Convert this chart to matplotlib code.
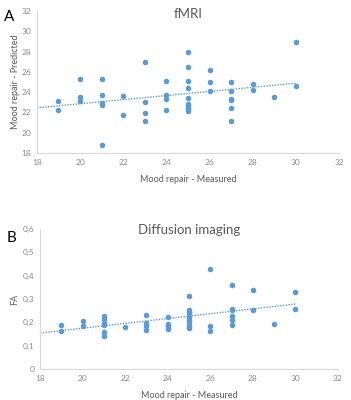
import matplotlib.pyplot as plt
import numpy as np

# fMRI panel: measured mood repair (x) vs predicted (y)
fmri_x = [19, 19,
          20, 20, 20,
          21, 21, 21, 21, 21,
          22, 22,
          23, 23, 23, 23,
          24, 24, 24, 24,
          25, 25, 25, 25, 25, 25, 25, 25, 25, 25,
          26, 26, 26,
          27, 27, 27, 27, 27, 27,
          28, 28,
          29,
          30, 30]
fmri_y = [23.15, 22.25,
          25.25, 23.5, 23.1,
          25.3, 23.7, 22.96, 22.77, 18.8,
          23.6, 21.76,
          27.0, 23.07, 21.92, 21.2,
          25.1, 23.76, 23.3, 22.25,
          27.94, 26.44, 25.1, 24.45, 23.46, 22.8, 22.64, 22.48, 22.32, 22.19,
          26.18, 24.97, 24.08,
          25.0, 24.15, 23.36, 23.2, 22.45, 21.17,
          24.84, 24.18,
          23.5,
          28.96, 24.57]

# diffusion panel: measured mood repair (x) vs FA (y)
dti_x = [19, 19,
         20, 20,
         21, 21, 21, 21, 21, 21,
         22,
         23, 23, 23, 23,
         24, 24, 24, 24,
         25, 25, 25, 25, 25, 25, 25, 25, 25, 25,
         26, 26, 26,
         27, 27, 27, 27, 27, 27,
         28, 28,
         29,
         30, 30]
dti_y = [0.189, 0.164,
         0.204, 0.183,
         0.226, 0.216, 0.196, 0.189, 0.159, 0.141,
         0.18,
         0.233, 0.197, 0.186, 0.167,
         0.224, 0.193, 0.183, 0.173,
         0.314, 0.253, 0.246, 0.24, 0.221, 0.211, 0.201, 0.19, 0.181, 0.174,
         0.429, 0.184, 0.161,
         0.36, 0.259, 0.251, 0.227, 0.21, 0.189,
         0.34, 0.254,
         0.193,
         0.331, 0.256]

x_ticks = [18, 20, 22, 24, 26, 28, 30, 32]
fmri_ticks = [18, 20, 22, 24, 26, 28, 30, 32]
dti_ticks = [0, 0.1, 0.2, 0.3, 0.4, 0.5, 0.6]
dti_tick_labels = ["0", "0,1", "0,2", "0,3", "0,4", "0,5", "0,6"]

blue = "#5B9BD5"
grey = "#595959"
light = "#8C8C8C"
plt.rcParams['font.family'] = ['Lato', 'DejaVu Sans']

fig = plt.figure(figsize=(3.51, 4.0), dpi=100)
axA = fig.add_axes([0.105, 0.6175, 0.861, 0.355])
axB = fig.add_axes([0.114, 0.0775, 0.849, 0.35])


def style(ax):
    for s in ["top", "right"]:
        ax.spines[s].set_visible(False)
    for s in ["left", "bottom"]:
        ax.spines[s].set_color("#D9D9D9")
        ax.spines[s].set_linewidth(0.8)
    ax.tick_params(length=0, labelsize=6, colors=light, pad=4)
    ax.set_xlim(18, 32)
    ax.set_xticks(x_ticks)


def trend(ax, x, y):
    k, b = np.polyfit(x, y, 1)
    xs = np.array([18, 30])
    ax.plot(xs, k * xs + b, linestyle=(0, (1, 1)), color=blue, lw=1.0, zorder=2)


# panel A
style(axA)
axA.scatter(fmri_x, fmri_y, s=16, color=blue, zorder=3, linewidths=0)
trend(axA, fmri_x, fmri_y)
axA.set_ylim(18, 32)
axA.set_yticks(fmri_ticks)
axA.text(0.5, 0.98, "fMRI", transform=axA.transAxes, fontsize=9.5,
         color=grey, ha="center", va="center")
axA.set_xlabel("Mood repair - Measured", fontsize=6.5, color=grey, labelpad=7)
axA.set_ylabel("Mood repair - Predicted", fontsize=6.5, color=grey, labelpad=1)
fig.text(0.012, 0.957, "A", fontsize=11, color="black", va="center")

# panel B
style(axB)
axB.scatter(dti_x, dti_y, s=16, color=blue, zorder=3, linewidths=0)
trend(axB, dti_x, dti_y)
axB.set_ylim(0, 0.6)
axB.set_yticks(dti_ticks)
axB.set_yticklabels(dti_tick_labels)
axB.text(0.5, 0.99, "Diffusion imaging", transform=axB.transAxes, fontsize=9.5,
         color=grey, ha="center", va="center")
axB.set_xlabel("Mood repair - Measured", fontsize=6.5, color=grey, labelpad=7)
axB.set_ylabel("FA", fontsize=6.5, color=grey, labelpad=3)
fig.text(0.018, 0.405, "B", fontsize=11, color="black", va="center")

fig.savefig("out.png", dpi=100)
